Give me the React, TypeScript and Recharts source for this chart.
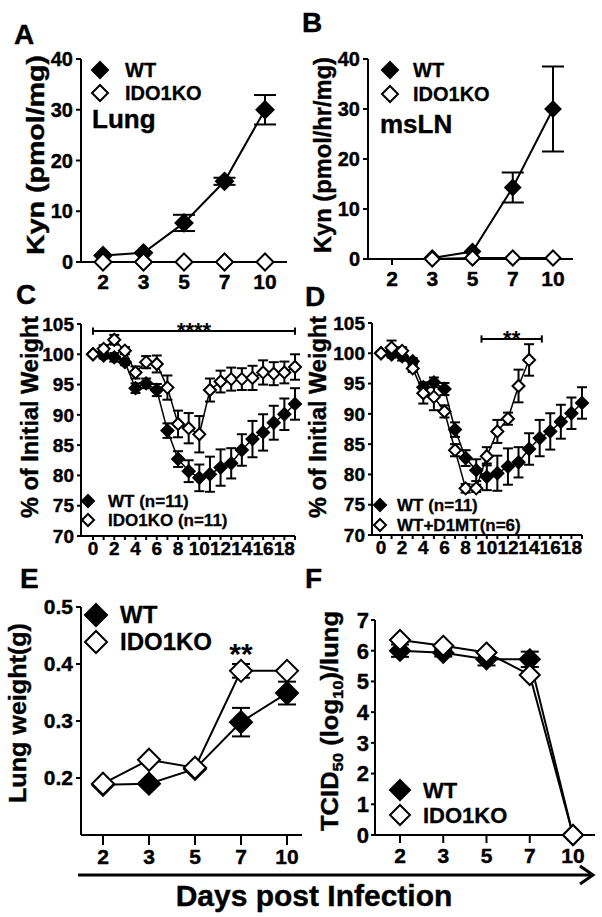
import React from 'react';
import { LineChart, Line, XAxis, YAxis, ErrorBar, ReferenceLine, ReferenceDot } from 'recharts';

const PAGE_W = 602;
const PAGE_H = 917;
const FONT = '"Liberation Sans", Arial, Helvetica, sans-serif';

// days post infection (panels A, B, E, F)
const DAYS = ['2', '3', '5', '7', '10'];

// A: lung Kyn (pmol/mg)
const lungKynWT = [1.3, 1.8, 7.7, 15.9, 30.0];
const lungKynWTErr = [null, null, 1.6, 0.7, 2.9];
const lungKynKO = [0, 0, 0, 0, 0];

// B: msLN Kyn (pmol/hr/mg)
const lnKynWT = [null, 0.2, 1.5, 14.3, 30.0];
const lnKynWTErr = [null, null, null, 3.0, 8.5];
const lnKynKO = [null, 0, 0.2, 0.2, 0.2];
const KYN_TICKS = [0, 10, 20, 30, 40];

// C, D: % of initial weight, days 0-19
const WEIGHT_DAYS = [0, 1, 2, 3, 4, 5, 6, 7, 8, 9, 10, 11, 12, 13, 14, 15, 16, 17, 18, 19];
const weightWT = [100, 99.8, 99.5, 98.7, 94.4, 95.2, 94.1, 87.4, 82.7, 80.7, 79.6, 80.2, 81.3, 82.0, 84.2, 86.0, 87.1, 88.7, 90.1, 91.8];
const weightWTErr = [null, 0.5, 0.7, 0.5, 0.8, 0.8, 1.0, 1.2, 1.3, 1.8, 2.2, 2.9, 3.0, 2.5, 2.6, 3.0, 3.0, 2.8, 2.6, 2.6];
const weightKO = [100, 100.9, 102.4, 100.6, 97.0, 98.7, 98.4, 94.5, 88.5, 87.8, 86.8, 94.1, 95.5, 95.9, 95.9, 96.1, 97.0, 96.8, 97.0, 97.9];
const weightKOErr = [null, 0.6, 0.8, 0.6, 1.0, 1.0, 1.4, 2.0, 2.2, 2.5, 3.0, 1.9, 1.8, 1.9, 1.8, 2.0, 2.0, 1.9, 1.8, 2.1];
const weightD1MT = [100, 100.9, 100.4, 97.5, 93.4, 92.8, 90.4, 84.0, 77.7, 77.7, 83.0, 87.1, 89.2, 94.6, 98.9, null, null, null, null, null];
const weightD1MTErr = [null, 1.2, 0.6, 0.6, 1.7, 2.2, 1.0, 1.0, 0.7, 0.6, 1.5, 1.9, 1.0, 2.7, 2.6, null, null, null, null, null];
const WEIGHT_TICKS = [70, 75, 80, 85, 90, 95, 100, 105];

// E: lung weight (g)
const lungWtWT = [0.188, 0.19, 0.216, 0.298, 0.349];
const lungWtWTErr = [null, null, null, 0.025, 0.02];
const lungWtKO = [0.19, 0.232, 0.218, 0.388, 0.388];
const lungWtKOErr = [null, null, null, 0.012, null];
const LUNGWT_TICKS = [0.2, 0.3, 0.4, 0.5];

// F: TCID50 (log10)/lung
const tcidWT = [6.0, 5.93, 5.72, 5.72, 0];
const tcidWTErr = [0.2, 0.12, 0.2, 0.25, null];
const tcidKO = [6.35, 6.16, 5.94, 5.21, 0];
const TCID_TICKS = [0, 1, 2, 3, 4, 5, 6, 7];

// significance annotations
const SIG_C = { from: 0, to: 19, y: 103.84, text: '****' };
const SIG_D = { from: 9.5, to: 15.2, y: 102.36, text: '**' };
const SIG_E = { day: '7', y: 0.388, text: '**' };

const byDay = (wt: any[], wtErr: any[], ko: any[], koErr?: any[]) =>
  DAYS.map((day, i) => ({ day, wt: wt[i], wtErr: wtErr[i], ko: ko[i], koErr: koErr ? koErr[i] : null }));

const kynLung = byDay(lungKynWT, lungKynWTErr, lungKynKO);
const kynLN = byDay(lnKynWT, lnKynWTErr, lnKynKO);
const lungWt = byDay(lungWtWT, lungWtWTErr, lungWtKO, lungWtKOErr);
const tcid = byDay(tcidWT, tcidWTErr, tcidKO);
const weight = WEIGHT_DAYS.map((day, i) => ({
  day,
  wt: weightWT[i], wtErr: weightWTErr[i],
  ko: weightKO[i], koErr: weightKOErr[i],
  d1mt: weightD1MT[i], d1mtErr: weightD1MTErr[i],
}));

const YW = 60;
const XH = 40;
const frame = (x0: number, y0: number, x1: number, y1: number) => ({
  top: y0, right: PAGE_W - x1, bottom: PAGE_H - y1 - XH, left: x0 - YW,
});

const AX = { stroke: '#000', strokeWidth: 2 };
const tickFont = (size: number) => ({
  fontSize: size, fontWeight: 'bold', fill: '#000', fontFamily: FONT, stroke: '#000', strokeWidth: 0.4,
});

const diamond = (size: number, fill: string) => (props: any) => {
  const { cx, cy, index } = props;
  if (!Number.isFinite(cx) || !Number.isFinite(cy) || props.value == null) return <g key={`n${index}`} />;
  return (
    <path
      key={`d${index}`}
      d={`M${cx},${cy - size}L${cx + size},${cy}L${cx},${cy + size}L${cx - size},${cy}Z`}
      fill={fill}
      stroke="#000"
      strokeWidth={2}
    />
  );
};

const layer: React.CSSProperties = { position: 'absolute', left: 0, top: 0 };

const Series = (key: string, size: number, fill: string, width: number, capW: number) => (
  <Line
    key={key}
    dataKey={key}
    stroke="#000"
    strokeWidth={width}
    dot={diamond(size, fill)}
    activeDot={false}
    connectNulls={false}
    isAnimationActive={false}
  >
    <ErrorBar dataKey={`${key}Err`} width={capW} strokeWidth={2} stroke="#000" direction="y" />
  </Line>
);

const PanelA = () => (
  <div style={layer}>
    <LineChart width={PAGE_W} height={PAGE_H} data={kynLung} margin={frame(81, 59, 287, 262)}>
      <XAxis dataKey="day" type="category" height={XH} interval={0} padding={{ left: 22, right: 22 }}
        tickSize={6} tickMargin={6} tick={tickFont(21)} axisLine={AX} tickLine={AX} />
      <YAxis type="number" domain={[0, 40]} ticks={KYN_TICKS} width={YW} interval={0}
        tickSize={5} tickMargin={3} tick={tickFont(20)} axisLine={AX} tickLine={AX} />
      {Series('wt', 8.5, '#000', 2, 11)}
      {Series('ko', 8.5, '#fff', 2, 11)}
    </LineChart>
  </div>
);

const PanelB = () => (
  <div style={layer}>
    <LineChart width={PAGE_W} height={PAGE_H} data={kynLN} margin={frame(368, 59, 573, 259)}>
      <XAxis dataKey="day" type="category" height={XH} interval={0} padding={{ left: 24, right: 20 }}
        tickSize={6} tickMargin={6} tick={tickFont(21)} axisLine={AX} tickLine={AX} />
      <YAxis type="number" domain={[0, 40]} ticks={KYN_TICKS} width={YW} interval={0}
        tickSize={5} tickMargin={3} tick={tickFont(20)} axisLine={AX} tickLine={AX} />
      {Series('wt', 7.5, '#000', 2, 11)}
      {Series('ko', 7.5, '#fff', 2, 11)}
    </LineChart>
  </div>
);

const weightX = (padLeft: number) => (
  <XAxis dataKey="day" type="number" domain={[0, 19]} ticks={WEIGHT_DAYS} height={XH} interval={0}
    padding={{ left: padLeft, right: 0 }} tickFormatter={(v: number) => (v % 2 === 0 ? String(v) : '')}
    tickSize={4} tickMargin={2} tick={tickFont(19)} axisLine={AX} tickLine={AX} />
);

const sig = (s: { from: number; to: number; y: number; text: string }, size: number, offset: number) => [
  <ReferenceLine key="s0" segment={[{ x: s.from, y: s.y }, { x: s.to, y: s.y }]} stroke="#000" strokeWidth={2}
    label={{ value: s.text, position: 'top', offset, fontSize: size, fontWeight: 'bold', fill: '#000', fontFamily: FONT }} />,
  <ReferenceLine key="s1" segment={[{ x: s.from, y: s.y - 0.6 }, { x: s.from, y: s.y + 0.6 }]} stroke="#000" strokeWidth={2} />,
  <ReferenceLine key="s2" segment={[{ x: s.to, y: s.y - 0.6 }, { x: s.to, y: s.y + 0.6 }]} stroke="#000" strokeWidth={2} />,
];

const PanelC = () => (
  <div style={layer}>
    <LineChart width={PAGE_W} height={PAGE_H} data={weight} margin={frame(81, 324, 295, 536)}>
      {weightX(12)}
      <YAxis type="number" domain={[70, 105]} ticks={WEIGHT_TICKS} width={YW} interval={0}
        tickSize={4} tickMargin={3} tick={tickFont(19)} axisLine={AX} tickLine={AX} />
      {sig(SIG_C, 22, -7)}
      {Series('wt', 6, '#000', 1.5, 5)}
      {Series('ko', 6, '#fff', 1.5, 5)}
    </LineChart>
  </div>
);

const PanelD = () => (
  <div style={layer}>
    <LineChart width={PAGE_W} height={PAGE_H} data={weight} margin={frame(372, 323, 582, 535)}>
      {weightX(9)}
      <YAxis type="number" domain={[70, 105]} ticks={WEIGHT_TICKS} width={YW} interval={0}
        tickSize={4} tickMargin={3} tick={tickFont(19)} axisLine={AX} tickLine={AX} />
      {sig(SIG_D, 22, -7)}
      {Series('wt', 6, '#000', 1.5, 5)}
      {Series('d1mt', 6, '#fff', 1.5, 5)}
    </LineChart>
  </div>
);

const PanelE = () => (
  <div style={layer}>
    <LineChart width={PAGE_W} height={PAGE_H} data={lungWt} margin={frame(81, 607, 302, 835)}>
      <XAxis dataKey="day" type="category" height={XH} interval={0} padding={{ left: 22, right: 15 }}
        tickSize={10} tickMargin={4} tick={tickFont(21)} axisLine={AX} tickLine={AX} />
      <YAxis type="number" domain={[0.1, 0.5]} ticks={LUNGWT_TICKS} width={YW} interval={0}
        tickSize={5} tickMargin={3} tick={tickFont(21)} axisLine={AX} tickLine={AX}
        tickFormatter={(v: number) => v.toFixed(1)} />
      {Series('wt', 11, '#000', 2, 9)}
      {Series('ko', 11, '#fff', 2, 9)}
      <ReferenceDot x={SIG_E.day} y={SIG_E.y} r={0} fill="none" stroke="none"
        label={{ value: SIG_E.text, position: 'top', offset: 7, fontSize: 30, fontWeight: 'bold', fill: '#000', fontFamily: FONT }} />
    </LineChart>
  </div>
);

const PanelF = () => (
  <div style={layer}>
    <LineChart width={PAGE_W} height={PAGE_H} data={tcid} margin={frame(375, 620, 595, 835)}>
      <XAxis dataKey="day" type="category" height={XH} interval={0} padding={{ left: 25, right: 22 }}
        tickSize={8} tickMargin={5} tick={tickFont(21)} axisLine={AX} tickLine={AX} />
      <YAxis type="number" domain={[0, 7]} ticks={TCID_TICKS} width={YW} interval={0}
        tickSize={4} tickMargin={2} tick={tickFont(22)} axisLine={AX} tickLine={AX} />
      {Series('wt', 10, '#000', 2, 9)}
      {Series('ko', 10, '#fff', 2, 9)}
    </LineChart>
  </div>
);

const AxisTitle = ({ x, y, len, size = 23, children }: any) => (
  <text
    transform={`translate(${x},${y}) rotate(-90)`}
    textAnchor="middle"
    fontFamily={FONT}
    fontWeight="bold"
    fontSize={size}
    textLength={len}
    lengthAdjust="spacingAndGlyphs"
    fill="#000"
    stroke="#000"
    strokeWidth={0.4}
  >
    {children}
  </text>
);

const Key = ({ x, y, gap, size, textX, fontSize, base, items }: any) => (
  <g>
    {items.map((it: any, i: number) => {
      const cy = y + i * gap;
      return (
        <g key={it.label}>
          <path d={`M${x},${cy - size}L${x + size},${cy}L${x},${cy + size}L${x - size},${cy}Z`}
            fill={it.fill} stroke="#000" strokeWidth={2} />
          <text x={textX} y={cy + base} fontSize={fontSize} fontWeight="bold" fontFamily={FONT} fill="#000"
            stroke="#000" strokeWidth={0.3}>{it.label}</text>
        </g>
      );
    })}
  </g>
);

const koItems = [{ label: 'WT', fill: '#000' }, { label: 'IDO1KO', fill: '#fff' }];

const Overlay = () => (
  <svg width={PAGE_W} height={PAGE_H} style={{ ...layer, pointerEvents: 'none' }}>
    <g fontFamily={FONT} fontWeight="bold" fontSize={28} fill="#000" stroke="#000" strokeWidth={0.4}>
      <text x={14} y={44}>A</text>
      <text x={302} y={32}>B</text>
      <text x={16} y={304}>C</text>
      <text x={305} y={306}>D</text>
      <text x={20} y={588}>E</text>
      <text x={305} y={588}>F</text>
      <text x={92} y={128} fontSize={26}>Lung</text>
      <text x={380} y={133} fontSize={26}>msLN</text>
    </g>
    <AxisTitle x={44} y={155} len={200}>Kyn (pmol/mg)</AxisTitle>
    <AxisTitle x={331} y={155} len={196}>Kyn (pmol/hr/mg)</AxisTitle>
    <AxisTitle x={38} y={417} len={202}>% of Initial Weight</AxisTitle>
    <AxisTitle x={326} y={417} len={202}>% of Initial Weight</AxisTitle>
    <AxisTitle x={26} y={713} len={180}>Lung weight(g)</AxisTitle>
    <AxisTitle x={338} y={721} len={220}>
      TCID<tspan fontSize={15} dy={5}>50</tspan><tspan dy={-5}> (log</tspan>
      <tspan fontSize={15} dy={5}>10</tspan><tspan dy={-5}>)/lung</tspan>
    </AxisTitle>
    <Key x={100} y={70} gap={23} size={8} textX={125} fontSize={20} base={7} items={koItems} />
    <Key x={390} y={70} gap={24} size={8} textX={413} fontSize={20} base={7} items={koItems} />
    <Key x={88} y={501} gap={19} size={6} textX={108} fontSize={17} base={6}
      items={[{ label: 'WT (n=11)', fill: '#000' }, { label: 'IDO1KO (n=11)', fill: '#fff' }]} />
    <Key x={380} y={505} gap={20} size={6} textX={397} fontSize={17} base={6}
      items={[{ label: 'WT (n=11)', fill: '#000' }, { label: 'WT+D1MT(n=6)', fill: '#fff' }]} />
    <Key x={96} y={615} gap={27} size={11} textX={120} fontSize={24} base={8} items={koItems} />
    <Key x={400} y={790} gap={25} size={10} textX={423} fontSize={22} base={8} items={koItems} />
    <line x1={78} y1={875} x2={592} y2={875} stroke="#000" strokeWidth={3} />
    <polyline points="580,866 593,875 580,884" fill="none" stroke="#000" strokeWidth={3} />
    <text x={314} y={906} textAnchor="middle" fontFamily={FONT} fontWeight="bold" fontSize={30} fill="#000"
      stroke="#000" strokeWidth={0.4}>
      Days post Infection
    </text>
  </svg>
);

export default function App() {
  return (
    <div style={{ position: 'absolute', left: 0, top: 0, width: PAGE_W, height: PAGE_H, background: '#fff', overflow: 'hidden' }}>
      <PanelA />
      <PanelB />
      <PanelC />
      <PanelD />
      <PanelE />
      <PanelF />
      <Overlay />
    </div>
  );
}
